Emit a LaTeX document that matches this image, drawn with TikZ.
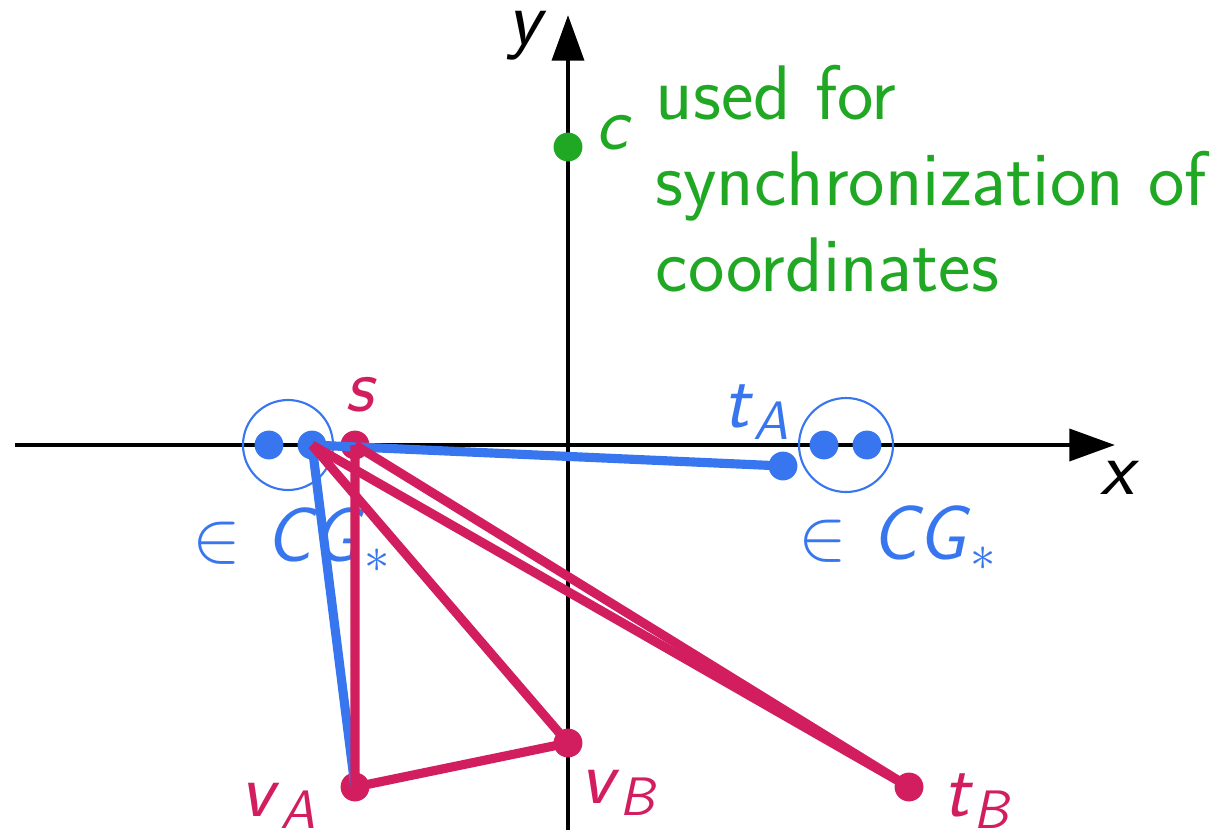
\documentclass[tikz,border=0pt]{standalone}
\usepackage{amsmath}
\usetikzlibrary{arrows.meta}

\definecolor{colA}{RGB}{56,118,239}
\definecolor{colB}{RGB}{210,30,95}
\definecolor{colC}{RGB}{32,168,36}

\newcommand{\sflab}[2]{$\textsf{\textit{#1}}_{\textsf{\textit{#2}}}$}

\tikzset{
  axis/.style={line width=1.4pt,-{Triangle[length=13pt,width=9pt]}},
  dot/.style={circle,fill,inner sep=0pt,minimum size=8.2pt},
  edge/.style={line width=2.6pt},
  lab/.style={inner sep=0pt,font=\fontsize{22}{24.5}\selectfont\sffamily}
}

\begin{document}
\begin{tikzpicture}[x=0.01cm,y=-0.01cm]
  \useasboundingbox (0,0) rectangle (1227,833);
  % axes
  \draw[axis] (15,445) -- (1115,445);
  \draw[axis] (568,830) -- (568,15);
  \node[lab] (xl) at (1120,478) {\textit{x}};
  \node[lab] (yl) at (527,36) {\textit{y}};
  % groups
  \draw[colA,line width=0.6pt] (288,445) circle (45);
  \draw[colA,line width=0.6pt] (846,445) circle (47);
  \node[dot,colA] (a1) at (269,445) {};
  \node[dot,colA] (a2) at (312,445) {};
  \node[dot,colA] (b1) at (824,445) {};
  \node[dot,colA] (b2) at (867,445) {};
  \node[lab,colA] (ga) at (292,540) {$\in$ \textit{CG}$_*$};
  \node[lab,colA] (gb) at (898,538) {$\in$ \textit{CG}$_*$};
  % c
  \node[dot,colC] (c) at (568,147) {};
  \node[lab,colC] (cl) at (614,133) {\textit{c}};
  \node[lab,colC,anchor=north west,align=left] (note) at (655,64)
    {used for\\synchronization of\\coordinates};
  % vertices
  \node[dot,colB] (s) at (355,445) {};
  \node[dot,colA] (tA) at (783,466) {};
  \node[dot,colB] (vA) at (355,787) {};
  \node[dot,colB] (vB) at (568,743) {};
  \node[dot,colB] (tB) at (909,787) {};
  \node[lab,colB] (sl) at (361,395) {\textit{s}};
  \node[lab,colA] (tAl) at (757,412) {\sflab{t}{A}};
  \node[lab,colB] (vAl) at (279,806) {\sflab{v}{A}};
  \node[lab,colB] (vBl) at (620,793) {\sflab{v}{B}};
  \node[lab,colB] (tBl) at (978,801) {\sflab{t}{B}};
  % paths
  \draw[edge,colA] (a2.center) -- (tA.center);
  \draw[edge,colA] (a2.center) -- (vA.center);
  \draw[edge,colB] (s.center) -- (vA.center) -- (vB.center);
  \draw[edge,colB] (a2.center) -- (vB.center);
  \draw[edge,colB] (a2.center) -- (tB.center);
  \draw[edge,colB] (s.center) -- (tB.center);
\end{tikzpicture}
\end{document}
